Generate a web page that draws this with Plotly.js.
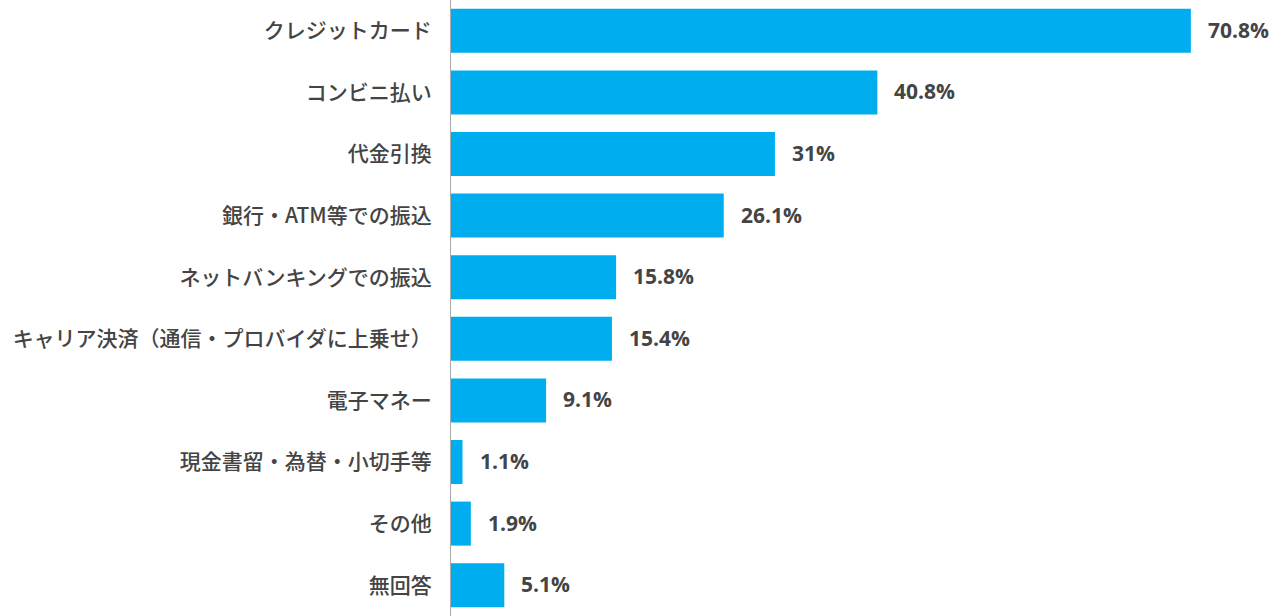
<!DOCTYPE html>
<html><head><meta charset="utf-8">
<script src="https://cdn.plot.ly/plotly-3.0.1.min.js"></script>
<style>html,body{margin:0;padding:0;background:#fff;}#chart{width:1287px;height:616px;}</style>
</head><body><div id="chart"></div>
<script>
const categories = ["クレジットカード","コンビニ払い","代金引換","銀行・ATM等での振込","ネットバンキングでの振込","キャリア決済（通信・プロバイダに上乗せ）","電子マネー","現金書留・為替・小切手等","その他","無回答"];
const values = [70.8, 40.8, 31, 26.1, 15.8, 15.4, 9.1, 1.1, 1.9, 5.1];
const valueLabels = ["70.8%","40.8%","31%","26.1%","15.8%","15.4%","9.1%","1.1%","1.9%","5.1%"];

const trace = {
  type: 'bar', orientation: 'h',
  x: values, y: categories,
  marker: {color: '#00AEEF'},
  hoverinfo: 'none'
};
const annotations = values.map((v, i) => ({
  x: v, y: categories[i], xref: 'x', yref: 'y',
  text: valueLabels[i], showarrow: false,
  xanchor: 'left', xshift: 15, yshift: 1,
  font: {family: '"Open Sans", sans-serif', size: 21, color: '#444444', weight: 'bold'}
}));
const layout = {
  width: 1287, height: 616,
  margin: {l: 451, r: 0, t: 0, b: 0},
  paper_bgcolor: '#ffffff', plot_bgcolor: '#ffffff',
  bargap: 0.285,
  showlegend: false,
  xaxis: {range: [0, 80], visible: false, fixedrange: true},
  yaxis: {
    autorange: 'reversed',
    showline: true, linecolor: '#aaaaaa', linewidth: 1,
    showgrid: false, zeroline: false, ticks: '',
    ticklabelstandoff: 14,
    tickfont: {family: '"Noto Sans CJK JP", sans-serif', size: 21, color: '#444444', weight: 500}
  },
  annotations: annotations
};
Plotly.newPlot('chart', [trace], layout, {displayModeBar: false, staticPlot: true});
</script></body></html>
